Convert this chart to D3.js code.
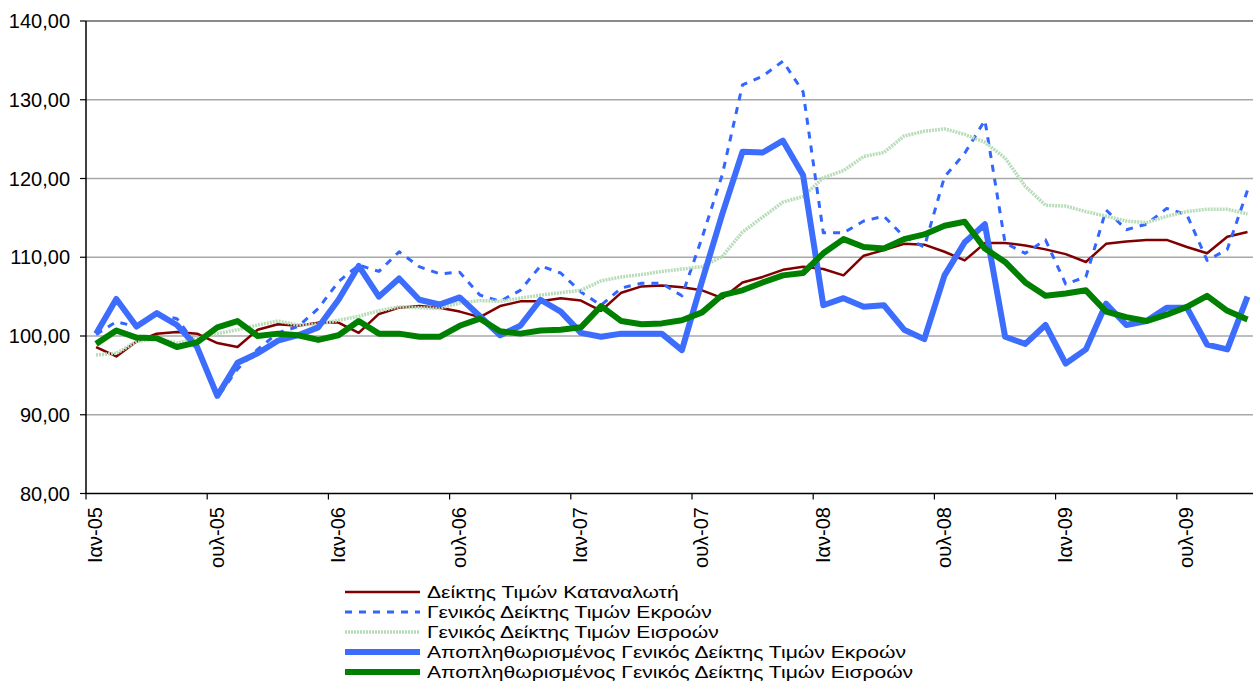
<!DOCTYPE html>
<html>
<head>
<meta charset="utf-8">
<script src="https://cdn.jsdelivr.net/npm/d3@7"></script>
<style>
  body { margin: 0; background: #fff; }
  svg { display: block; font-family: "Liberation Sans", Arial, sans-serif; }
</style>
</head>
<body>
<svg id="chart" width="1253" height="685"></svg>
<script>
'use strict';

// month names as shown in the source workbook
var monthNames = ['Ιαν', 'Φεβ', 'Μαρ', 'Απρ', 'Μαϊ', 'Ιουν', 'ουλ', 'Αυγ', 'Σεπ', 'Οκτ', 'Νοε', 'Δεκ'];
var years = ['05', '06', '07', '08', '09'];
var lastMonth = 9; // Οκτ-09

var yTicks = [80, 90, 100, 110, 120, 130, 140];

var cpi = [98.6, 97.4, 99.3, 100.3, 100.5, 100.3, 99.1, 98.6, 100.8, 101.5, 101.3, 101.7,
  101.7, 100.4, 102.8, 103.6, 103.8, 103.6, 103.1, 102.4, 103.8, 104.4, 104.4, 104.8,
  104.5, 103.2, 105.5, 106.3, 106.4, 106.2, 105.8, 104.8, 106.8, 107.5, 108.4, 108.8,
  108.5, 107.7, 110.2, 110.9, 111.7, 111.6, 110.7, 109.6, 111.8, 111.8, 111.5, 111.0,
  110.4, 109.4, 111.7, 112.0, 112.2, 112.2, 111.3, 110.5, 112.6, 113.2];

var ppiOut = [100.2, 101.8, 101.2, 102.7, 102.2, 98.8, 92.2, 95.8, 98.3, 100.4, 101.2, 103.5,
  106.9, 109.0, 108.2, 110.7, 108.8, 107.9, 108.1, 105.2, 104.4, 105.8, 108.9, 108.0,
  105.6, 103.9, 106.1, 106.7, 106.7, 105.1, 112.5, 120.5, 131.9, 133.0, 134.9, 131.0,
  113.1, 113.1, 114.6, 115.2, 112.6, 111.3, 120.2, 123.2, 127.4, 111.8, 110.5, 112.2,
  106.6, 107.5, 116.0, 113.5, 114.2, 116.2, 115.4, 109.6, 111.0, 118.5];

var ppiIn = [97.6, 97.8, 99.3, 99.7, 99.1, 99.7, 100.3, 100.8, 101.4, 101.9, 101.4, 101.5,
  102.0, 102.5, 103.2, 103.7, 103.6, 103.5, 104.2, 104.5, 104.4, 104.8, 105.2, 105.5,
  105.8, 107.0, 107.5, 107.8, 108.2, 108.5, 108.8, 110.1, 113.2, 115.1, 117.0, 117.7,
  120.1, 121.0, 122.8, 123.3, 125.4, 126.0, 126.3, 125.6, 124.6, 122.6, 119.0, 116.6,
  116.5, 115.8, 115.2, 114.6, 114.4, 115.2, 115.8, 116.1, 116.1, 115.5];

var defOut = [100.3, 104.7, 101.2, 102.9, 101.4, 98.6, 92.4, 96.6, 97.8, 99.4, 100.1, 101.1,
  104.6, 108.9, 105.0, 107.3, 104.6, 104.0, 104.9, 102.5, 100.1, 101.3, 104.6, 103.1,
  100.4, 99.9, 100.3, 100.3, 100.3, 98.2, 107.0, 115.5, 123.4, 123.3, 124.8, 120.4,
  103.9, 104.8, 103.7, 103.9, 100.8, 99.6, 107.7, 111.9, 114.2, 99.9, 99.0, 101.4,
  96.5, 98.3, 104.1, 101.4, 101.9, 103.6, 103.6, 98.9, 98.3, 105.0];

var defIn = [99.0, 100.7, 99.8, 99.7, 98.6, 99.2, 101.1, 101.9, 100.0, 100.3, 100.1, 99.5,
  100.1, 101.9, 100.3, 100.3, 99.9, 99.9, 101.3, 102.2, 100.6, 100.3, 100.7, 100.8,
  101.1, 103.8, 101.9, 101.5, 101.6, 102.0, 103.0, 105.2, 105.8, 106.8, 107.7, 108.0,
  110.5, 112.3, 111.3, 111.1, 112.3, 112.9, 114.0, 114.5, 111.1, 109.4, 106.8, 105.1,
  105.4, 105.8, 103.1, 102.4, 101.9, 102.7, 103.7, 105.1, 103.2, 102.1];

var seriesNames = [
  'Δείκτης Τιμών Καταναλωτή',
  'Γενικός Δείκτης Τιμών Εκροών',
  'Γενικός Δείκτης Τιμών Εισροών',
  'Αποπληθωρισμένος Γενικός Δείκτης Τιμών Εκροών',
  'Αποπληθωρισμένος Γενικός Δείκτης Τιμών Εισροών'
];

var categories = [];
years.forEach(function(yy, yi) {
  monthNames.forEach(function(m, mi) {
    if (yi < years.length - 1 || mi <= lastMonth) categories.push(m + '-' + yy);
  });
});

var series = [
  { name: seriesNames[0], values: cpi, color: '#800000', width: 2.5, dash: null },
  { name: seriesNames[1], values: ppiOut, color: '#3366ff', width: 3, dash: '7,7' },
  { name: seriesNames[2], values: ppiIn, color: '#b7dcb7', width: 3.5, dash: '2,1' },
  { name: seriesNames[3], values: defOut, color: '#3d6dfd', width: 6, dash: null },
  { name: seriesNames[4], values: defIn, color: '#008000', width: 6, dash: null }
];

var svg = d3.select('#chart');
var plotLeft = 86, plotTop = 21, plotH = 472.5;
var plotW = categories.length * 20.2;

var x = d3.scaleBand().domain(categories).range([plotLeft, plotLeft + plotW]).padding(0);
var y = d3.scaleLinear().domain([80, 140]).range([plotTop + plotH, plotTop]);

// gridlines
svg.append('g')
  .selectAll('line')
  .data(yTicks.filter(function(t) { return t > 80; }))
  .enter()
  .append('line')
  .attr('x1', plotLeft).attr('x2', plotLeft + plotW)
  .attr('y1', function(d) { return y(d); })
  .attr('y2', function(d) { return y(d); })
  .attr('stroke', function(d) { return d === 140 ? '#8a8a8a' : '#a8a8a8'; })
  .attr('stroke-width', function(d) { return d === 140 ? 2 : 1.5; });

// y axis
var yAxis = svg.append('g');
yAxis.append('line')
  .attr('x1', plotLeft).attr('x2', plotLeft)
  .attr('y1', y(140)).attr('y2', y(80))
  .attr('stroke', '#000').attr('stroke-width', 1.5);
yAxis.selectAll('.tk')
  .data(yTicks)
  .enter()
  .append('line')
  .attr('x1', plotLeft - 6).attr('x2', plotLeft)
  .attr('y1', function(d) { return y(d); })
  .attr('y2', function(d) { return y(d); })
  .attr('stroke', '#000').attr('stroke-width', 1.2);
yAxis.selectAll('text')
  .data(yTicks)
  .enter()
  .append('text')
  .attr('x', 70)
  .attr('y', function(d) { return y(d); })
  .attr('dy', '0.36em')
  .attr('text-anchor', 'end')
  .style('font-size', '20px')
  .text(function(d) { return d3.format('.2f')(d).replace('.', ','); });

// x axis
var shown = categories.filter(function(c, i) { return i % 6 === 0; });
var xAxis = svg.append('g');
xAxis.append('line')
  .attr('x1', plotLeft).attr('x2', plotLeft + plotW)
  .attr('y1', y(80)).attr('y2', y(80))
  .attr('stroke', '#000').attr('stroke-width', 1.5);
xAxis.selectAll('.tk')
  .data(shown)
  .enter()
  .append('line')
  .attr('x1', function(d) { return x(d); })
  .attr('x2', function(d) { return x(d); })
  .attr('y1', y(80)).attr('y2', y(80) + 6)
  .attr('stroke', '#000').attr('stroke-width', 1.2);
xAxis.selectAll('text')
  .data(shown)
  .enter()
  .append('text')
  .attr('transform', function(d) {
    return 'translate(' + (x(d) + x.bandwidth() / 2 - 1) + ',' + 507 + ') rotate(-90)';
  })
  .attr('dy', '0.36em')
  .attr('text-anchor', 'end')
  .style('font-size', '20px')
  .text(function(d) { return d; });

// lines
var line = d3.line()
  .x(function(d, i) { return x(categories[i]) + x.bandwidth() / 2; })
  .y(function(d) { return y(d); });

svg.append('g')
  .selectAll('path')
  .data(series)
  .enter()
  .append('path')
  .attr('d', function(s) { return line(s.values); })
  .attr('fill', 'none')
  .attr('stroke', function(s) { return s.color; })
  .attr('stroke-width', function(s) { return s.width; })
  .attr('stroke-dasharray', function(s) { return s.dash; })
  .attr('stroke-linejoin', 'round');

// legend (rows are tight, so the text is a bit condensed vertically)
var legend = svg.append('g')
  .selectAll('g')
  .data(series)
  .enter()
  .append('g')
  .attr('transform', function(s, i) { return 'translate(345,' + (592 + i * 20) + ')'; });
legend.append('line')
  .attr('x1', 0).attr('x2', 75)
  .attr('stroke', function(s) { return s.color; })
  .attr('stroke-width', function(s) { return s.width; })
  .attr('stroke-dasharray', function(s) { return s.dash; });
legend.append('text')
  .attr('transform', 'translate(82,0) scale(1.22,1)')
  .attr('dy', '0.36em')
  .style('font-size', '17.3px')
  .text(function(s) { return s.name; });
</script>
</body>
</html>
